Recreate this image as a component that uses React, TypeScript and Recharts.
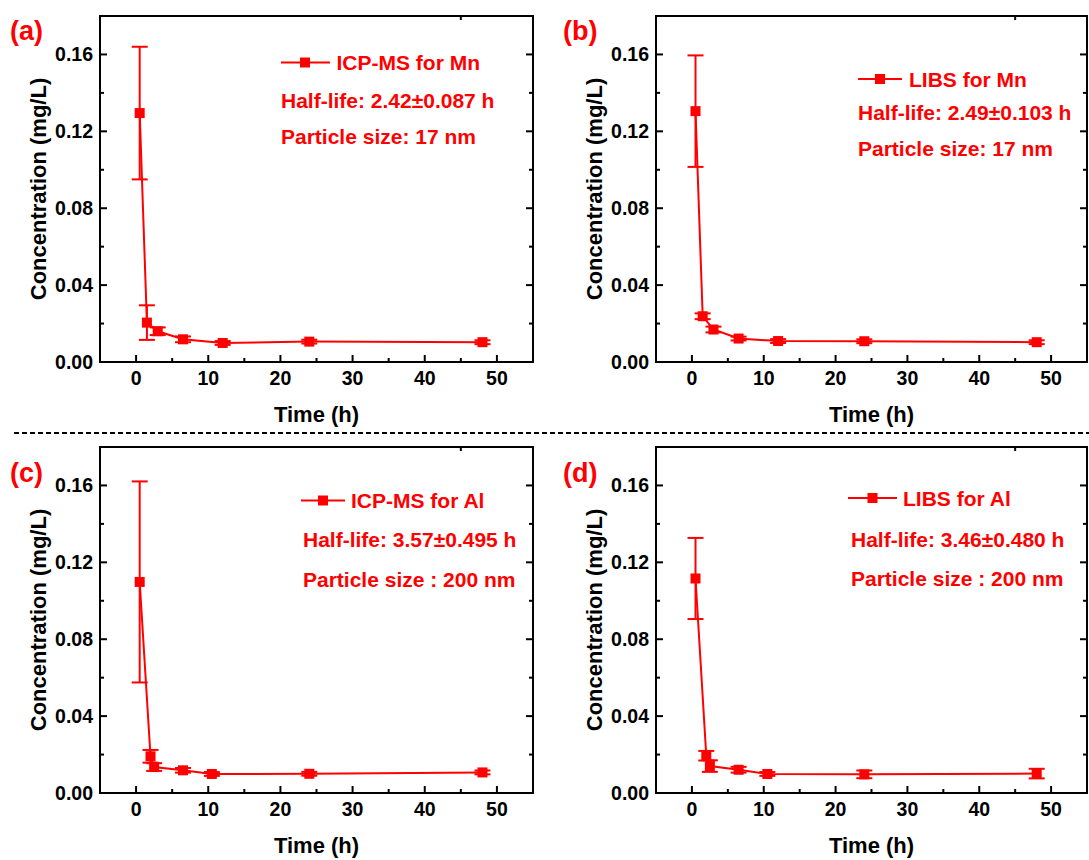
import React from 'react';
import { LineChart, Line, XAxis, YAxis, ErrorBar } from 'recharts';

const RED = '#ff0000';
const FONT = '"Liberation Sans", Arial, Helvetica, sans-serif';

// sampling times (h)
const timeMn = [0.5, 1.5, 3, 6.5, 12, 24, 48];
const timeAl = [0.5, 2, 2.5, 6.5, 10.5, 24, 48];

// concentrations (mg/L) and their error bars
const icpMn = [0.1295, 0.0205, 0.016, 0.0118, 0.0099, 0.0106, 0.0103];
const icpMnErr = [0.0345, 0.009, 0.002, 0.0015, 0.001, 0.001, 0.001];
const libsMn = [0.1305, 0.0238, 0.0169, 0.0122, 0.0109, 0.0108, 0.0103];
const libsMnErr = [0.029, 0.0015, 0.0015, 0.001, 0.001, 0.001, 0.001];
const icpAl = [0.1098, 0.0191, 0.0135, 0.0118, 0.0099, 0.01, 0.0107];
const icpAlErr = [0.0523, 0.0033, 0.002, 0.0012, 0.001, 0.001, 0.001];
const libsAl = [0.1116, 0.0194, 0.014, 0.0121, 0.0099, 0.0097, 0.0101];
const libsAlErr = [0.0211, 0.0025, 0.003, 0.0015, 0.001, 0.002, 0.0025];

const xTicks = [0, 5, 10, 15, 20, 25, 30, 35, 40, 45, 50];
const yTicks = [0, 0.02, 0.04, 0.06, 0.08, 0.1, 0.12, 0.14, 0.16];

const panelTags = ['(a)', '(b)', '(c)', '(d)'];
const seriesNames = ['ICP-MS for Mn', 'LIBS for Mn', 'ICP-MS for Al', 'LIBS for Al'];
const halfLives = [
  'Half-life: 2.42±0.087 h',
  'Half-life: 2.49±0.103 h',
  'Half-life: 3.57±0.495 h',
  'Half-life: 3.46±0.480 h',
];
const particleSizes = [
  'Particle size: 17 nm',
  'Particle size: 17 nm',
  'Particle size : 200 nm',
  'Particle size : 200 nm',
];

const SERIES = [
  { time: timeMn, conc: icpMn, err: icpMnErr },
  { time: timeMn, conc: libsMn, err: libsMnErr },
  { time: timeAl, conc: icpAl, err: icpAlErr },
  { time: timeAl, conc: libsAl, err: libsAlErr },
];

// page placement of each panel + its annotations
const LAYOUT = [
  { left: 0, top: 0, width: 545, right: 11, tag: [10, 39.5], sym: [281, 330, 305], text: 336.5, l1: 70, l2x: 281, l2: 107.5, l3: 144 },
  { left: 556, top: 0, width: 533, right: 1, tag: [563, 40], sym: [858, 902, 880], text: 909, l1: 86.5, l2x: 858, l2: 120, l3: 156 },
  { left: 0, top: 431, width: 545, right: 11, tag: [10, 482], sym: [301, 345, 323], text: 351, l1: 508, l2x: 303, l2: 547, l3: 587 },
  { left: 556, top: 431, width: 533, right: 1, tag: [563, 482], sym: [848, 897, 872.5], text: 903, l1: 505.5, l2x: 851, l2: 547, l3: 586 },
];

const tickText = { fontFamily: FONT, fontWeight: 700, fontSize: 19.5, fill: '#000' };
const titleText = { fontFamily: FONT, fontWeight: 700, fontSize: 22, fill: '#000' };
const axisLine = { stroke: '#000', strokeWidth: 2, strokeLinecap: 'square' as const };

const isMajorX = (v: number) => v % 10 === 0;
const isMajorY = (v: number) => Math.round(v * 100) % 4 === 0;

function BottomTick(p: any) {
  const v = p.payload.value;
  const major = isMajorX(v);
  return (
    <g>
      <line x1={p.x} x2={p.x} y1={p.y} y2={p.y - (major ? 7 : 4)} stroke="#000" strokeWidth={2} />
      {major && (
        <text x={p.x} y={p.y + 23} textAnchor="middle" style={tickText}>
          {v}
        </text>
      )}
    </g>
  );
}

function TopTick(p: any) {
  const major = isMajorX(p.payload.value);
  return <line x1={p.x} x2={p.x} y1={p.y} y2={p.y + (major ? 7 : 4)} stroke="#000" strokeWidth={2} />;
}

function LeftTick(p: any) {
  const v = p.payload.value;
  const major = isMajorY(v);
  return (
    <g>
      <line x1={p.x} x2={p.x + (major ? 7 : 4)} y1={p.y} y2={p.y} stroke="#000" strokeWidth={2} />
      {major && (
        <text x={p.x - 7} y={p.y + 7} textAnchor="end" style={tickText}>
          {v.toFixed(2)}
        </text>
      )}
    </g>
  );
}

function RightTick(p: any) {
  const major = isMajorY(p.payload.value);
  return <line x1={p.x} x2={p.x - (major ? 7 : 4)} y1={p.y} y2={p.y} stroke="#000" strokeWidth={2} />;
}

function XTitle(p: any) {
  const vb = p.viewBox || {};
  return (
    <text x={vb.x + vb.width / 2} y={vb.y + 59.5} textAnchor="middle" style={titleText}>
      Time (h)
    </text>
  );
}

function YTitle(p: any) {
  const vb = p.viewBox || {};
  const cx = vb.x + 46;
  const cy = vb.y + vb.height / 2;
  return (
    <text x={cx} y={cy} textAnchor="middle" transform={`rotate(-90, ${cx}, ${cy})`} style={titleText}>
      Concentration (mg/L)
    </text>
  );
}

function renderSquare(p: any) {
  return <rect key={`sq-${p.index}`} x={p.cx - 5} y={p.cy - 5} width={10} height={10} fill={RED} />;
}

function Panel({ idx }: { idx: number }) {
  const s = SERIES[idx];
  const lay = LAYOUT[idx];
  const rows = s.time.map((t, i) => ({ t, c: s.conc[i], e: s.err[i] }));
  return (
    <div style={{ position: 'absolute', left: lay.left, top: lay.top }}>
      <LineChart
        width={lay.width}
        height={430}
        data={rows}
        margin={{ top: 15, right: lay.right, bottom: 0, left: 0 }}
      >
        <XAxis
          dataKey="t"
          type="number"
          domain={[-5, 55]}
          ticks={xTicks}
          interval={0}
          allowDataOverflow
          height={68}
          tickSize={0}
          tickMargin={0}
          tickLine={false}
          axisLine={axisLine}
          tick={BottomTick}
          label={XTitle}
        />
        <XAxis
          xAxisId="top"
          orientation="top"
          type="number"
          domain={[-5, 55]}
          ticks={xTicks}
          interval={0}
          allowDataOverflow
          height={1}
          tickSize={0}
          tickMargin={0}
          tickLine={false}
          axisLine={axisLine}
          tick={TopTick}
        />
        <YAxis
          type="number"
          domain={[0, 0.18]}
          ticks={yTicks}
          interval={0}
          allowDataOverflow
          width={100}
          tickSize={0}
          tickMargin={0}
          tickLine={false}
          axisLine={axisLine}
          tick={LeftTick}
          label={YTitle}
        />
        <YAxis
          yAxisId="right"
          orientation="right"
          type="number"
          domain={[0, 0.18]}
          ticks={yTicks}
          interval={0}
          allowDataOverflow
          width={1}
          tickSize={0}
          tickMargin={0}
          tickLine={false}
          axisLine={axisLine}
          tick={RightTick}
        />
        <Line
          dataKey="c"
          stroke={RED}
          strokeWidth={2}
          dot={renderSquare}
          activeDot={false}
          isAnimationActive={false}
        >
          <ErrorBar dataKey="e" width={8} stroke={RED} strokeWidth={2} isAnimationActive={false} />
        </Line>
      </LineChart>
    </div>
  );
}

const legendText = { fontFamily: FONT, fontWeight: 700, fontSize: 21, fill: RED };

function Annotations() {
  return (
    <svg
      width={1089}
      height={860}
      style={{ position: 'absolute', left: 0, top: 0, pointerEvents: 'none' }}
    >
      <line x1={14} x2={1089} y1={433} y2={433} stroke="#000" strokeWidth={2} strokeDasharray="5 3" />
      {LAYOUT.map((lay, i) => (
        <g key={i}>
          <text x={lay.tag[0]} y={lay.tag[1]} style={{ ...legendText, fontSize: 27 }}>
            {panelTags[i]}
          </text>
          <line x1={lay.sym[0]} x2={lay.sym[1]} y1={lay.l1 - 7.5} y2={lay.l1 - 7.5} stroke={RED} strokeWidth={2} />
          <rect x={lay.sym[2] - 5} y={lay.l1 - 12.5} width={10} height={10} fill={RED} />
          <text x={lay.text} y={lay.l1} style={legendText}>
            {seriesNames[i]}
          </text>
          <text x={lay.l2x} y={lay.l2} style={legendText}>
            {halfLives[i]}
          </text>
          <text x={lay.l2x} y={lay.l3} style={legendText}>
            {particleSizes[i]}
          </text>
        </g>
      ))}
    </svg>
  );
}

export default function App() {
  return (
    <div style={{ position: 'absolute', left: 0, top: 0, width: 1089, height: 860, background: '#fff' }}>
      {[0, 1, 2, 3].map((i) => (
        <Panel key={i} idx={i} />
      ))}
      <Annotations />
    </div>
  );
}
